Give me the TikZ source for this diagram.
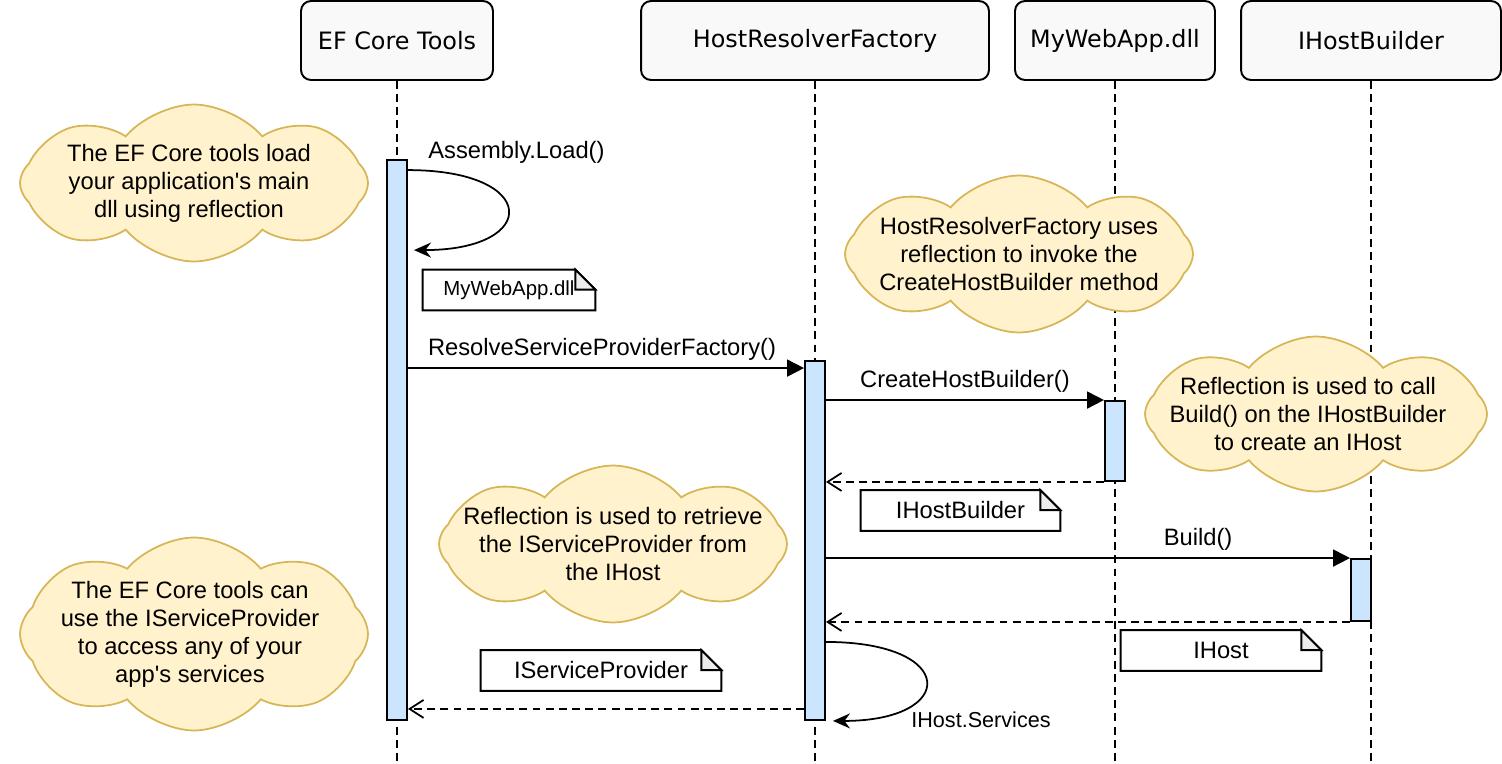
\documentclass[tikz,border=0pt]{standalone}
\usepackage{fontspec}
\setmainfont{Liberation Sans}[Ligatures=TeXOff]
\newfontfamily\headfont{DejaVu Sans}
\usetikzlibrary{positioning,arrows.meta,shapes.symbols,calc}
\definecolor{headfill}{RGB}{249, 249, 249}
\definecolor{barfill}{RGB}{204, 229, 255}
\definecolor{cloudfill}{RGB}{255, 242, 204}
\definecolor{cloudline}{RGB}{214, 182, 86}
\definecolor{foldfill}{RGB}{236, 236, 236}
\tikzset{
    lifehead/.style={rectangle, rounded corners=0.2cm, draw, line width=1.1pt, fill=headfill, minimum height=1.58cm, font=\headfont\fontsize{13.6}{16}\selectfont},
    lifeline/.style={line width=1.1pt, dash pattern=on 4.5pt off 3pt},
    activation/.style={rectangle, draw, line width=1.1pt, fill=barfill, minimum width=0.4cm, inner sep=0pt},
    remark/.style={cloud, cloud puffs=8, cloud puff arc=100, cloud ignores aspect, draw=cloudline, fill=cloudfill, line width=1pt, inner sep=0pt, minimum width=6.96cm, minimum height=3.14cm},
    remark text/.style={align=center, inner sep=0pt},
    notebox/.style={rectangle, minimum height=0.8cm, inner sep=0pt},
    note outline/.style={line width=1.1pt, line join=miter},
    call/.style={-{Triangle[length=0.34cm,width=0.34cm]}, line width=1pt},
    reply/.style={-{Straight Barb[length=0.28cm,width=0.36cm]}, line width=1pt, dash pattern=on 4.5pt off 3pt},
    selfcall/.style={-{Stealth[length=0.34cm,width=0.3cm]}, line width=1pt},
    msg label/.style={inner sep=0pt, above=4pt}
}
\newcommand{\dognote}[1]{%
  \draw[note outline] (#1.south west) -- (#1.north west) -- ([xshift=-0.4cm]#1.north east) -- ([yshift=-0.4cm]#1.north east) -- (#1.south east) -- cycle;
  \filldraw[note outline, fill=foldfill] ([xshift=-0.4cm]#1.north east) -- ([xshift=-0.4cm,yshift=-0.4cm]#1.north east) -- ([yshift=-0.4cm]#1.north east) -- cycle;}

\begin{document}
\begin{tikzpicture}[x=0.02cm, y=-0.02cm, font=\fontsize{13.5}{15.9}\selectfont]
\useasboundingbox (0,0) rectangle (1502,764);
\coordinate (bottom) at (0,764);

\node[lifehead, minimum width=3.84cm] (ef) at (397,40.5) {EF Core Tools};
\node[lifehead, minimum width=6.96cm] (hrf) at (815,40.5) {HostResolverFactory};
\node[lifehead, minimum width=4cm] (dll) at (1115,40.5) {MyWebApp.dll};
\node[lifehead, minimum width=5.2cm] (hb) at (1371,40.5) {IHostBuilder};
\foreach \h in {ef,hrf,dll,hb}
    \draw[lifeline] (\h.south) -- (\h.south |- bottom);

\node[activation, minimum height=11.2cm] (efbar) at (397,440) {};
\node[activation, minimum height=7.18cm] (hrbar) at (815,540.5) {};
\node[activation, minimum height=1.6cm] (dllbar) at (1115,441) {};
\node[activation, minimum height=1.24cm] (hbbar) at (1361,590) {};

\node[remark] (loadcloud) at (194,183) {};
\node[remark text] (loadtext) at ([xshift=-0.1cm]loadcloud.center) {The EF Core tools load\\your application's main\\dll using reflection};
\node[remark] (invokecloud) at (1019,254) {};
\node[remark text] (invoketext) at (invokecloud.center) {HostResolverFactory uses\\reflection to invoke the\\CreateHostBuilder method};
\node[remark, minimum width=6.84cm, minimum height=3.1cm] (buildcloud) at (1316,414) {};
\node[remark text] (buildtext) at ([xshift=-0.16cm]buildcloud.center) {Reflection is used to call\\Build() on the IHostBuilder\\to create an IHost};
\node[remark] (spcloud) at (613,544) {};
\node[remark text] (sptext) at (spcloud.center) {Reflection is used to retrieve\\the IServiceProvider from\\the IHost};
\node[remark, minimum height=3.86cm] (usecloud) at (194,634) {};
\node[remark text] (usetext) at ([xshift=-0.08cm]usecloud.center) {The EF Core tools can\\use the IServiceProvider\\to access any of your\\app's services};

\node[notebox, minimum width=3.44cm, font=\fontsize{11.6}{13.5}\selectfont] (dllnote) at (509,290) {MyWebApp.dll};
\node[notebox, minimum width=3.98cm] (hbnote) at (960.5,510.5) {IHostBuilder};
\node[notebox, minimum width=4cm] (hostnote) at (1221,650.5) {IHost};
\node[notebox, minimum width=4.8cm] (spnote) at (601,670.5) {IServiceProvider};
\foreach \n in {dllnote,hbnote,hostnote,spnote}
    \dognote{\n};

\draw[selfcall] ([yshift=-0.22cm]efbar.north east) .. controls +(132,0) and +(126,0) .. ([xshift=0.12cm,yshift=-1.82cm]efbar.north east);
\node[anchor=west, inner sep=0pt] (loadlbl) at (428,152) {Assembly.Load()};

\coordinate (resolve) at ([yshift=-0.16cm]hrbar.north west);
\draw[call] (efbar.east |- resolve) -- (resolve) node[msg label, pos=0.49] {ResolveServiceProviderFactory()};
\draw[call] (hrbar.east |- dllbar.north) -- (dllbar.north west) node[msg label, midway] {CreateHostBuilder()};
\draw[reply] (dllbar.south west) -- (hrbar.east |- dllbar.south);
\draw[call] (hrbar.east |- hbbar.north) -- (hbbar.north west) node[msg label, pos=0.71] {Build()};
\draw[reply] (hbbar.south west) -- (hrbar.east |- hbbar.south);

\draw[selfcall] ([yshift=1.58cm]hrbar.south east) .. controls +(132,0) and +(125,0) .. ([xshift=0.14cm]hrbar.south east);
\node[anchor=west, inner sep=0pt, font=\fontsize{12.3}{14}\selectfont] (svclbl) at (911,720) {IHost.Services};

\coordinate (spret) at ([yshift=0.24cm]hrbar.south west);
\draw[reply] (spret) -- (efbar.east |- spret);
\end{tikzpicture}
\end{document}
